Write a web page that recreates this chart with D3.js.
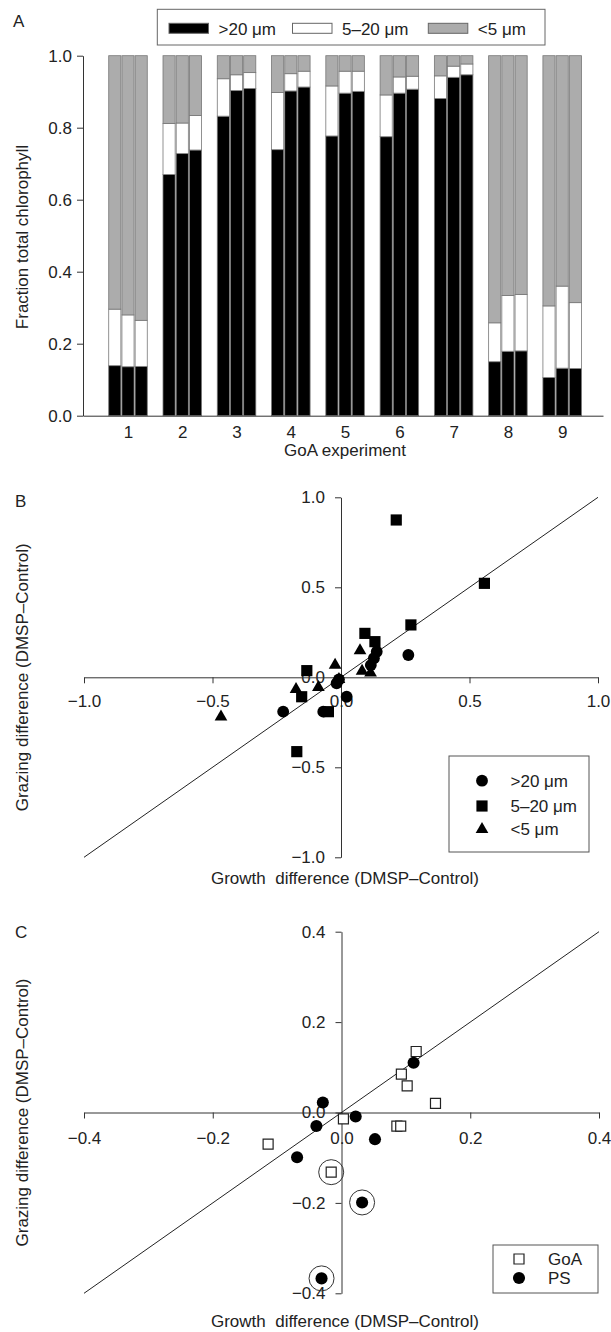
<!DOCTYPE html>
<html>
<head>
<meta charset="utf-8">
<style>
body { margin: 0; background: #fff; }
text { font-family: "Liberation Sans", Arial, sans-serif; fill: #222; }
</style>
</head>
<body>
<svg id="chart" width="611" height="1332"></svg>
<script src="https://cdn.jsdelivr.net/npm/d3@7/dist/d3.min.js"></script>
<script>
// ---- Panel A data: fraction of total chlorophyll, 3 replicates per experiment
var experiments = [1, 2, 3, 4, 5, 6, 7, 8, 9];
var sizeClasses = [">20 μm", "5–20 μm", "<5 μm"];
var fracGt20 = [
  [0.139, 0.136, 0.137], [0.670, 0.728, 0.738], [0.832, 0.903, 0.909],
  [0.739, 0.902, 0.913], [0.777, 0.896, 0.901], [0.775, 0.896, 0.907],
  [0.881, 0.940, 0.947], [0.150, 0.179, 0.180], [0.106, 0.132, 0.131]
];
var frac5to20 = [
  [0.157, 0.144, 0.128], [0.142, 0.085, 0.096], [0.104, 0.044, 0.044],
  [0.159, 0.048, 0.044], [0.139, 0.061, 0.056], [0.116, 0.045, 0.036],
  [0.063, 0.031, 0.030], [0.108, 0.155, 0.157], [0.199, 0.228, 0.183]
];
var fracLt5 = [
  [0.704, 0.720, 0.735], [0.188, 0.187, 0.166], [0.064, 0.053, 0.047],
  [0.102, 0.050, 0.043], [0.084, 0.043, 0.043], [0.109, 0.059, 0.057],
  [0.056, 0.029, 0.023], [0.742, 0.666, 0.663], [0.695, 0.640, 0.686]
];
var ticksA = [0, 0.2, 0.4, 0.6, 0.8, 1.0];

// ---- Panel B data: growth vs grazing difference by size class
var gt20Growth  = [-0.225, -0.069, -0.017, -0.008, 0.022, 0.116, 0.128, 0.139, 0.262];
var gt20Grazing = [-0.191, -0.191, -0.033, -0.012, -0.108, 0.068, 0.106, 0.142, 0.124];
var midGrowth   = [-0.172, -0.133, -0.153, -0.049, 0.093, 0.132, 0.272, 0.215, 0.558];
var midGrazing  = [-0.413, 0.037, -0.108, -0.191, 0.244, 0.198, 0.291, 0.874, 0.522];
var lt5Growth   = [-0.467, -0.175, -0.088, -0.023, -0.008, 0.074, 0.082, 0.115];
var lt5Grazing  = [-0.219, -0.067, -0.056, 0.068, -0.011, 0.148, 0.035, 0.025];
var ticksB = [-1.0, -0.5, 0.0, 0.5, 1.0];

// ---- Panel C data: GoA vs PS experiments (circled = flagged points)
var goaGrowth   = [0.116, 0.093, 0.102, 0.146, 0.003, 0.086, 0.092, -0.114, -0.016];
var goaGrazing  = [0.135, 0.085, 0.059, 0.020, -0.014, -0.030, -0.030, -0.070, -0.132];
var goaCircled  = [false, false, false, false, false, false, false, false, true];
var psGrowth    = [0.112, -0.029, 0.022, -0.039, 0.052, -0.069, 0.032, -0.031];
var psGrazing   = [0.110, 0.022, -0.009, -0.030, -0.059, -0.099, -0.199, -0.367];
var psCircled   = [false, false, false, false, false, false, true, true];
var ticksC = [-0.4, -0.2, 0.0, 0.2, 0.4];

var svg = d3.select("#chart");
var fmt = d3.format(".1f");
var FS = 17;

function styleAxis(g) {
  g.attr("font-size", FS).attr("font-family", null).style("color", "#333");
  g.selectAll("text").style("fill", "#222");
}

function zip(xs, ys) {
  return xs.map(function(x, i) { return [x, ys[i]]; });
}

// ======================= Panel A =======================
var xA = d3.scaleLinear().domain([0.171, 9.752]).range([83, 603]);
var yA = d3.scaleLinear().domain([0, 1]).range([415.7, 55.7]);
var halfGroup = 0.355;

var rows = [];
experiments.forEach(function(e, i) {
  for (var r = 0; r < 3; r++) {
    rows.push({exp: e, rep: r, gt20: fracGt20[i][r], mid: frac5to20[i][r], lt5: fracLt5[i][r]});
  }
});
var keys = ["gt20", "mid", "lt5"];
var fills = {gt20: "#000", mid: "#fff", lt5: "#acacac"};
var series = d3.stack().keys(keys)(rows);

var gA = svg.append("g");

gA.selectAll("g.layer")
  .data(series)
  .enter().append("g")
    .attr("class", "layer")
    .attr("fill", function(d) { return fills[d.key]; })
  .selectAll("rect")
  .data(function(d) { return d; })
  .enter().append("rect")
    .attr("x", function(d) {
      var inner = d3.scaleBand().domain([0, 1, 2])
        .range([xA(d.data.exp - halfGroup), xA(d.data.exp + halfGroup)]).paddingInner(0.08);
      return inner(d.data.rep);
    })
    .attr("width", function(d) {
      var inner = d3.scaleBand().domain([0, 1, 2])
        .range([xA(d.data.exp - halfGroup), xA(d.data.exp + halfGroup)]).paddingInner(0.08);
      return inner.bandwidth();
    })
    .attr("y", function(d) { return yA(d[1]); })
    .attr("height", function(d) { return yA(d[0]) - yA(d[1]); })
    .attr("stroke", "#777")
    .attr("stroke-width", 0.8);

gA.append("g")
  .attr("transform", "translate(" + xA.range()[0] + ",0)")
  .call(d3.axisLeft(yA).tickValues(ticksA).tickFormat(fmt).tickSize(6).tickSizeOuter(0).tickPadding(5))
  .call(styleAxis);

gA.append("g")
  .attr("transform", "translate(0," + yA(0) + ")")
  .call(d3.axisBottom(xA).tickValues(experiments).tickFormat(d3.format("d")).tickSize(0).tickPadding(10))
  .call(styleAxis);

gA.append("text")
  .attr("transform", "translate(28," + 237 + ") rotate(-90)")
  .attr("text-anchor", "middle")
  .attr("font-size", FS)
  .text("Fraction total chlorophyll");

gA.append("text")
  .attr("x", 345).attr("y", 456)
  .attr("text-anchor", "middle")
  .attr("font-size", FS)
  .text("GoA experiment");

gA.append("text").attr("x", 13).attr("y", 27).attr("font-size", FS).text("A");

// legend A
var legA = gA.append("g");
legA.append("rect")
  .attr("x", 157.3).attr("y", 9.3).attr("width", 387.7).attr("height", 35.7)
  .attr("fill", "#fff").attr("stroke", "#666");
var legAx = [169, 292.5, 428.3];
keys.forEach(function(k, i) {
  legA.append("rect")
    .attr("x", legAx[i]).attr("y", 23.3).attr("width", 39.5).attr("height", 10)
    .attr("fill", fills[k]).attr("stroke", "#666");
  legA.append("text")
    .attr("x", legAx[i] + 49.5).attr("y", 35)
    .attr("font-size", FS)
    .text(sizeClasses[i]);
});

// ======================= Panel B =======================
var xB = d3.scaleLinear().domain([-1, 1]).range([84, 598]);
var yB = d3.scaleLinear().domain([-1, 1]).range([857.3, 497.3]);
var gB = svg.append("g");

gB.append("g")
  .attr("transform", "translate(" + xB(0) + ",0)")
  .call(d3.axisLeft(yB).tickValues(ticksB).tickFormat(fmt).tickSize(6).tickSizeOuter(0).tickPadding(10))
  .call(styleAxis);

gB.append("g")
  .attr("transform", "translate(0," + yB(0) + ")")
  .call(d3.axisBottom(xB).tickValues(ticksB).tickFormat(fmt).tickSize(6).tickSizeOuter(0).tickPadding(12))
  .call(styleAxis);

gB.append("line")
  .attr("x1", xB(-1)).attr("y1", yB(-1)).attr("x2", xB(1)).attr("y2", yB(1))
  .attr("stroke", "#222").attr("stroke-width", 1);

var symCircle = d3.symbol().type(d3.symbolCircle).size(110);
var symSquare = d3.symbol().type(d3.symbolSquare).size(125);
var symTri = d3.symbol().type(d3.symbolTriangle).size(70);

var bSets = [
  {pts: zip(gt20Growth, gt20Grazing), sym: symCircle},
  {pts: zip(midGrowth, midGrazing), sym: symSquare},
  {pts: zip(lt5Growth, lt5Grazing), sym: symTri}
];
bSets.forEach(function(s) {
  gB.append("g").selectAll("path")
    .data(s.pts)
    .enter().append("path")
      .attr("transform", function(d) { return "translate(" + xB(d[0]) + "," + yB(d[1]) + ")"; })
      .attr("d", s.sym())
      .attr("fill", "#000");
});

gB.append("text")
  .attr("transform", "translate(28," + yB(0) + ") rotate(-90)")
  .attr("text-anchor", "middle")
  .attr("font-size", FS)
  .text("Grazing difference (DMSP–Control)");

gB.append("text")
  .attr("x", 345).attr("y", 884)
  .attr("text-anchor", "middle")
  .attr("font-size", FS)
  .text("Growth\u00a0 difference (DMSP–Control)");

gB.append("text").attr("x", 15).attr("y", 507).attr("font-size", FS).text("B");

var legB = gB.append("g");
legB.append("rect")
  .attr("x", 449).attr("y", 756).attr("width", 140).attr("height", 96)
  .attr("fill", "#fff").attr("stroke", "#555");
var legBy = [780.7, 806, 829.3];
bSets.forEach(function(s, i) {
  legB.append("path")
    .attr("transform", "translate(482," + legBy[i] + ")")
    .attr("d", s.sym())
    .attr("fill", "#000");
  legB.append("text")
    .attr("x", 510.5).attr("y", legBy[i] + 6)
    .attr("font-size", FS)
    .text(sizeClasses[i]);
});

// ======================= Panel C =======================
var xC = d3.scaleLinear().domain([-0.4, 0.4]).range([84, 599]);
var yC = d3.scaleLinear().domain([-0.4, 0.4]).range([1293.3, 931.7]);
var gC = svg.append("g");

gC.append("g")
  .attr("transform", "translate(" + xC(0) + ",0)")
  .call(d3.axisLeft(yC).tickValues(ticksC).tickFormat(fmt).tickSize(6).tickSizeOuter(0).tickPadding(10))
  .call(styleAxis);

gC.append("g")
  .attr("transform", "translate(0," + yC(0) + ")")
  .call(d3.axisBottom(xC).tickValues(ticksC).tickFormat(fmt).tickSize(6).tickSizeOuter(0).tickPadding(13))
  .call(styleAxis);

gC.append("line")
  .attr("x1", xC(-0.4)).attr("y1", yC(-0.4)).attr("x2", xC(0.4)).attr("y2", yC(0.4))
  .attr("stroke", "#222").attr("stroke-width", 1);

var goaPts = zip(goaGrowth, goaGrazing);
var psPts = zip(psGrowth, psGrazing);

// rings around flagged points
var ringed = goaPts.filter(function(d, i) { return goaCircled[i]; })
  .concat(psPts.filter(function(d, i) { return psCircled[i]; }));
gC.append("g").selectAll("circle")
  .data(ringed)
  .enter().append("circle")
    .attr("cx", function(d) { return xC(d[0]); })
    .attr("cy", function(d) { return yC(d[1]); })
    .attr("r", 12.5)
    .attr("fill", "none")
    .attr("stroke", "#333")
    .attr("stroke-width", 1);

var symOpenSq = d3.symbol().type(d3.symbolSquare).size(100);
var symDot = d3.symbol().type(d3.symbolCircle).size(115);

gC.append("g").selectAll("path")
  .data(goaPts)
  .enter().append("path")
    .attr("transform", function(d) { return "translate(" + xC(d[0]) + "," + yC(d[1]) + ")"; })
    .attr("d", symOpenSq())
    .attr("fill", "#fff")
    .attr("stroke", "#222")
    .attr("stroke-width", 1.2);

gC.append("g").selectAll("path")
  .data(psPts)
  .enter().append("path")
    .attr("transform", function(d) { return "translate(" + xC(d[0]) + "," + yC(d[1]) + ")"; })
    .attr("d", symDot())
    .attr("fill", "#000");

gC.append("text")
  .attr("transform", "translate(28," + yC(0) + ") rotate(-90)")
  .attr("text-anchor", "middle")
  .attr("font-size", FS)
  .text("Grazing difference (DMSP–Control)");

gC.append("text")
  .attr("x", 345).attr("y", 1327)
  .attr("text-anchor", "middle")
  .attr("font-size", FS)
  .text("Growth\u00a0 difference (DMSP–Control)");

gC.append("text").attr("x", 15).attr("y", 938).attr("font-size", FS).text("C");

var legC = gC.append("g");
legC.append("rect")
  .attr("x", 493).attr("y", 1245).attr("width", 105).attr("height", 48)
  .attr("fill", "#fff").attr("stroke", "#555");
legC.append("path")
  .attr("transform", "translate(519,1259)")
  .attr("d", symOpenSq())
  .attr("fill", "#fff").attr("stroke", "#222").attr("stroke-width", 1.2);
legC.append("text").attr("x", 548).attr("y", 1265).attr("font-size", FS).text("GoA");
legC.append("path")
  .attr("transform", "translate(519,1278)")
  .attr("d", symDot())
  .attr("fill", "#000");
legC.append("text").attr("x", 548).attr("y", 1284).attr("font-size", FS).text("PS");
</script>
</body>
</html>
